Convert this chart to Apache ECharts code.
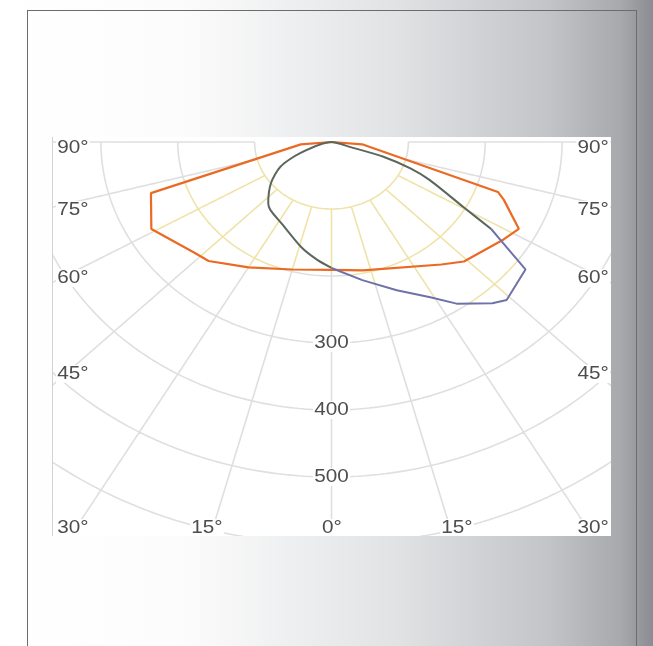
<!DOCTYPE html>
<html>
<head>
<meta charset="utf-8">
<script src="https://cdn.jsdelivr.net/npm/echarts@6/dist/echarts.min.js"></script>
<style>
  html, body { margin: 0; padding: 0; width: 653px; height: 646px; overflow: hidden; }
  body {
    position: relative;
    background: linear-gradient(to right, #ffffff 0%, #fcfcfc 28%, #eeeff0 45%, #e1e2e4 61%, #c3c4c7 84%, #a8a9ad 95%, #8b8c91 100%);
  }
  .frame {
    position: absolute; left: 27px; top: 10px; width: 610px; height: 660px;
    border: 1px solid #6c6c6e; border-bottom: none; box-sizing: border-box;
  }
  #chart {
    position: absolute; left: 52px; top: 137px; width: 559px; height: 399px;
    background: #fff; border-left: 1px solid #d2d2d2; box-sizing: border-box;
  }
</style>
</head>
<body>
<div class="frame"></div>
<div id="chart"></div>
<script>
// luminous intensity, angle from nadir (negative = left side)
const orangeAngles = [-90, -85, -72, -61, -47, -42, -30, -15, 0, 12, 38, 44, 57, 62, 69, 71, 85, 90]
const orangeValues = [0, 40, 247, 268, 243, 239, 216, 197, 191, 196, 232, 248, 267, 276, 240, 229, 40, 0]

const darkAngles = [-90, -68, -61, -52, -42, -38, -28, -14, -6, 0, 11, 21, 29, 34, 41, 44, 53, 56, 58, 60.5, 66, 69, 72, 73, 90]
const darkValues = [0, 44, 76, 100, 123, 129, 138, 162, 177, 188, 210, 237, 265, 291, 319, 328, 316, 269, 245, 197, 140, 110, 71, 26, 0]

const ringValues = [100, 200, 300, 400, 500, 600]
const spokeAngles = [-90, -75, -60, -45, -30, -15, 0, 15, 30, 45, 60, 75, 90]
const valueLabels = [300, 400, 500]
const sideLabels = ['90°', '75°', '60°', '45°']
const bottomLabels = ['30°', '15°', '0°', '15°', '30°']

const polar = (a, r) => {
  const t = a * Math.PI / 180
  return [r * Math.sin(t), -r * Math.cos(t)]
}

const orangePts = orangeAngles.map((a, i) => polar(a, orangeValues[i]))
const darkPts = darkAngles.map((a, i) => polar(a, darkValues[i]))

// lower right lobe of the dark curve is drawn bluish
const iFrom = darkAngles.indexOf(0)
const iTo = darkAngles.indexOf(58)
const bluePart = darkPts.slice(iFrom, iTo + 1)
const greenPart = darkPts.slice(iTo).concat(darkPts.slice(1, iFrom + 1))

const inPoly = (p, poly) => {
  let c = false
  for (let i = 0, j = poly.length - 1; i < poly.length; j = i++) {
    const [xi, yi] = poly[i]
    const [xj, yj] = poly[j]
    if ((yi > p[1]) !== (yj > p[1]) && p[0] < (xj - xi) * (p[1] - yi) / (yj - yi) + xi) c = !c
  }
  return c
}

// grid lines: grey outside the curves, pale yellow inside
const gray = []
const yellow = []
const GAP = ['-', '-']
const trace = (pts) => {
  let prev = null
  pts.forEach((p) => {
    const lit = inPoly(p, orangePts) || inPoly(p, darkPts)
    if (prev !== null && lit !== prev) {
      const old = prev ? yellow : gray
      old.push(p, GAP)
    }
    ;(lit ? yellow : gray).push(p)
    prev = lit
  })
  gray.push(GAP)
  yellow.push(GAP)
}
ringValues.forEach((r) => {
  const pts = []
  for (let a = -90; a <= 90; a += 1) pts.push(polar(a, r))
  trace(pts)
})
spokeAngles.forEach((a) => {
  const pts = []
  for (let r = 100; r <= 800; r += 4) pts.push(polar(a, r))
  trace(pts)
})

const chart = echarts.init(document.getElementById('chart'))
const lineBase = { type: 'line', symbol: 'none', silent: true, animation: false, connectNulls: false }

chart.setOption({
  animation: false,
  grid: { left: 0, right: 0, top: 0, bottom: 0, outerBoundsMode: 'none' },
  xAxis: { type: 'value', min: -362.34, max: 363.64, show: false },
  yAxis: { type: 'value', min: -588.06, max: 7.46, show: false },
  series: [
    { ...lineBase, data: gray, z: 1, lineStyle: { color: '#dfdfdf', width: 1.6 } },
    { ...lineBase, data: yellow, z: 2, lineStyle: { color: '#efe3a9', width: 1.6 } },
    { ...lineBase, data: orangePts, z: 4, lineStyle: { color: '#ea6a24', width: 2.2 } },
    { ...lineBase, data: greenPart, z: 5, smooth: 0.25, lineStyle: { color: '#5b665c', width: 2 } },
    { ...lineBase, data: bluePart, z: 5, lineStyle: { color: '#6f72a8', width: 2 } },
  ],
})

const font = '18px "Liberation Sans", Arial, sans-serif'
const txt = (text, x, y, align) => ({
  type: 'text', x, y, scaleX: 1.15, originX: 0, originY: 0, z: 10,
  style: { text, x: 0, y: 0, align, verticalAlign: 'middle', font, fill: '#4d4d4d', backgroundColor: '#fff', padding: [0, 1] },
})

const sideY = [11, 73, 141, 237]
const bottomX = [3, 154, 279, 404, 557]
const bottomAlign = ['left', 'center', 'center', 'center', 'right']
const graphics = []
sideLabels.forEach((s, i) => {
  graphics.push(txt(s, 3, sideY[i], 'left'))
  graphics.push(txt(s, 557, sideY[i], 'right'))
})
bottomLabels.forEach((s, i) => graphics.push(txt(s, bottomX[i], 391, bottomAlign[i])))
valueLabels.forEach((v) => {
  const [px, py] = chart.convertToPixel({ gridIndex: 0 }, [0, -v])
  graphics.push(txt(String(v), px, py, 'center'))
})
chart.setOption({ graphic: graphics })
</script>
</body>
</html>
